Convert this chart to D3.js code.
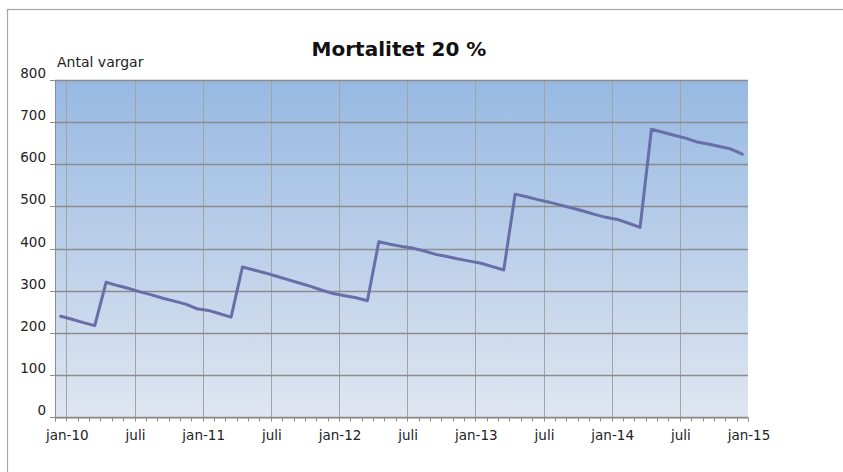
<!DOCTYPE html>
<html><head><meta charset="utf-8">
<script src="https://cdn.jsdelivr.net/npm/d3@7"></script>
<style>html,body{margin:0;padding:0;background:#fff;}svg{display:block;font-family:"DejaVu Sans",sans-serif;}</style>
</head><body>
<svg id="c" width="843" height="472"></svg>
<script>
const title = "Mortalitet 20 %";
const yTitle = "Antal vargar";
// monthly categories Dec 2009 .. Dec 2014
const months = ["2009-12",
 "2010-01","2010-02","2010-03","2010-04","2010-05","2010-06","2010-07","2010-08","2010-09","2010-10","2010-11","2010-12",
 "2011-01","2011-02","2011-03","2011-04","2011-05","2011-06","2011-07","2011-08","2011-09","2011-10","2011-11","2011-12",
 "2012-01","2012-02","2012-03","2012-04","2012-05","2012-06","2012-07","2012-08","2012-09","2012-10","2012-11","2012-12",
 "2013-01","2013-02","2013-03","2013-04","2013-05","2013-06","2013-07","2013-08","2013-09","2013-10","2013-11","2013-12",
 "2014-01","2014-02","2014-03","2014-04","2014-05","2014-06","2014-07","2014-08","2014-09","2014-10","2014-11","2014-12"];
const wolves = [239,
 232,224,217,320,312,305,297,290,282,275,268,257,
 253,245,237,356,349,342,334,326,318,310,301,293,
 288,283,276,416,410,405,401,394,386,381,375,370,
 365,357,349,529,523,516,510,503,496,489,481,474,
 469,460,450,683,676,669,662,653,648,642,636,624];
const yTicks = [0,100,200,300,400,500,600,700,800];
// x axis labels at month boundaries (index of month start, 0 = jan-10)
const xLabelPos = [0,6,12,18,24,30,36,42,48,54,60];
const xLabels = ["jan-10","juli","jan-11","juli","jan-12","juli","jan-13","juli","jan-14","juli","jan-15"];

const svg = d3.select("#c");
const L = 55, R = 748, T = 80, B = 417;
// month-boundary scale: -1 = start of Dec 2009, 60 = start of Jan 2015
const x = d3.scaleLinear().domain([-1, 60]).range([L, R]);
const y = d3.scaleLinear().domain([0, 800]).range([B, T]);
const px = v => Math.round(v) + 0.5;

// outer frame
svg.append("rect").attr("x",7.5).attr("y",9.5).attr("width",1000).attr("height",700)
  .attr("fill","#fff").attr("stroke","#a6a6a6").attr("stroke-width",1.2);

// gradient plot area
const defs = svg.append("defs");
const g = defs.append("linearGradient").attr("id","bg").attr("x1",0).attr("y1",0).attr("x2",0).attr("y2",1);
g.append("stop").attr("offset","0%").attr("stop-color","#97b9e2");
g.append("stop").attr("offset","100%").attr("stop-color","#dfe6f1");
svg.append("rect").attr("x",L).attr("y",T).attr("width",R-L).attr("height",B-T).attr("fill","url(#bg)");

// vertical gridlines
svg.append("g").selectAll("line").data(xLabelPos.slice(0,-1)).join("line")
  .attr("x1",d=>px(x(d))).attr("x2",d=>px(x(d))).attr("y1",T).attr("y2",B)
  .attr("stroke","#a3a3a3").attr("stroke-width",1);

// horizontal gridlines
svg.append("g").selectAll("line").data(yTicks).join("line")
  .attr("x1",L).attr("x2",R).attr("y1",d=>px(y(d))).attr("y2",d=>px(y(d)))
  .attr("stroke","#8c8c8c").attr("stroke-width",1.4);

// y axis
const yAxis = d3.axisLeft(y).tickValues(yTicks).tickSize(5).tickPadding(4).tickFormat(d3.format("d"));
const ya = svg.append("g").attr("transform",`translate(${px(L)-0.5},0)`).call(yAxis);
ya.select(".domain").attr("stroke","#8c8c8c");
ya.selectAll(".tick line").attr("stroke","#8c8c8c");
ya.selectAll(".tick text").attr("font-size","13.5px").attr("fill","#222").attr("dy","-0.15em")
  .attr("font-family","DejaVu Sans");
ya.selectAll(".tick").attr("transform",d=>`translate(0,${px(y(d))})`);

// x axis minor ticks (monthly)
const monthBounds = d3.range(-1, 61);
const xAxis = d3.axisBottom(x).tickValues(monthBounds).tickSize(4).tickFormat("");
const xa = svg.append("g").attr("transform",`translate(0,${px(B)})`).call(xAxis);
xa.select(".domain").attr("stroke","#8c8c8c");
xa.selectAll(".tick line").attr("stroke","#8c8c8c");
xa.selectAll(".tick").attr("transform",d=>`translate(${px(x(d))},0)`);

// x labels
svg.append("g").selectAll("text").data(xLabelPos).join("text")
  .attr("x",d=>x(d)+1).attr("y",440).attr("text-anchor","middle")
  .attr("font-size","13.5px").attr("fill","#222").text((d,i)=>xLabels[i]);

// line
const line = d3.line().x((d,i)=>x(i-0.5)).y(d=>y(d));
svg.append("path").datum(wolves).attr("d",line).attr("fill","none")
  .attr("stroke","#686ea8").attr("stroke-width",3).attr("stroke-linejoin","round").attr("stroke-linecap","round");

// titles
svg.append("text").attr("x",399).attr("y",56).attr("text-anchor","middle")
  .attr("font-size","20px").attr("font-weight","bold").attr("fill","#111").text(title);
svg.append("text").attr("x",57).attr("y",67).attr("font-size","14px").attr("fill","#222").text(yTitle);
</script>
</body></html>
